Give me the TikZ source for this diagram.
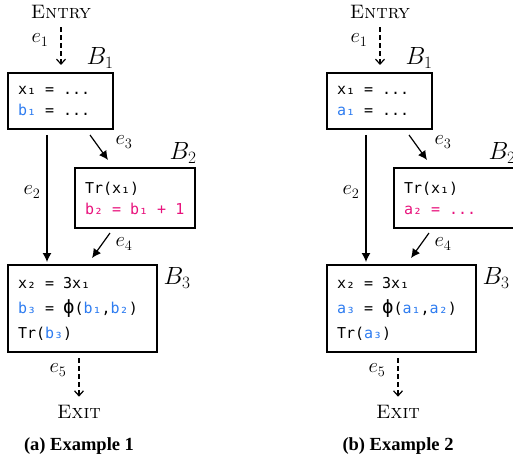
\documentclass[tikz,border=0pt]{standalone}
\usepackage{fontspec}
\newfontfamily\codefont{DejaVu Sans Mono}
\newfontfamily\captionfont{Liberation Serif}
\usetikzlibrary{arrows.meta, positioning}
\definecolor{varblue}{HTML}{2E7CF0}
\definecolor{varpink}{HTML}{E8127C}
\newcommand{\codesize}[2]{\codefont\fontsize{#1}{#2}\selectfont
  \fontdimen2\font=0.602em\fontdimen3\font=0pt\fontdimen4\font=0pt\relax}
\newcommand{\bigphi}{{\fontsize{19}{19}\selectfont ϕ}}

\begin{document}
\begin{tikzpicture}[x=1pt, y=-1pt,
    block/.style={draw, line width=1.4pt, anchor=north west, outer sep=0pt, inner xsep=10pt, inner ysep=0pt, align=flush left, font=\codesize{15}{21}},
    term/.style={inner sep=0pt, font=\fontsize{19.5}{22}\selectfont\scshape},
    edgelbl/.style={inner sep=0pt, font=\fontsize{21}{23}\selectfont},
    blklbl/.style={inner sep=0pt, font=\fontsize{23}{25}\selectfont},
    soft/.style={dash pattern=on 5pt off 3pt, line width=1.2pt, -{Straight Barb[length=5pt,width=9pt]}},
    flow/.style={line width=1.2pt, -{Latex[length=9pt,width=9pt]}},
    subcap/.style={inner sep=0pt, font=\captionfont\fontsize{18.5}{20}\selectfont\bfseries}]

  \useasboundingbox (0,0) rectangle (513,462);

  % Example 1
  \node[term] (entryA) at (61,12) {Entry};
  \node[block, text width=85pt, minimum height=56pt] (b1A) at (8,73)
    {x₁ = ...\\{\color{varblue}b₁} = ...};
  \node[block, text width=100pt, minimum height=60pt] (b2A) at (75,168)
    {Tr(x₁)\\{\color{varpink}b₂ = b₁ + 1}};
  \node[block, text width=129pt, minimum height=87pt, font=\codesize{15}{25}] (b3A) at (8,265)
    {x₂ = 3x₁\\{\color{varblue}b₃} = \bigphi({\color{varblue}b₁},{\color{varblue}b₂})\\Tr({\color{varblue}b₃})};
  \node[term] (exitA) at (79,412) {Exit};

  \node[blklbl] (b1lblA) at (100,58) {$B_1$};
  \node[blklbl] (b2lblA) at (183,153) {$B_2$};
  \node[blklbl] (b3lblA) at (177,278) {$B_3$};

  \draw[soft, shorten <=8.5pt, shorten >=8pt] (entryA.south) -- (entryA.south |- b1A.north);
  \draw[flow, shorten <=6pt, shorten >=3pt] ([xshift=39pt]b1A.south west) -- ([xshift=39pt]b3A.north west);
  \draw[flow, shorten <=7.4pt, shorten >=9.9pt] ([xshift=77.7pt]b1A.south west) -- ([xshift=38.8pt]b2A.north west);
  \draw[flow, shorten <=6.2pt, shorten >=8.6pt] ([xshift=38.6pt]b2A.south west) -- ([xshift=79pt]b3A.north west);
  \draw[soft, shorten <=6pt, shorten >=8.5pt] (exitA.north |- b3A.south) -- (exitA.north);

  \node[edgelbl] (e1A) at (40,40) {$e_1$};
  \node[edgelbl] (e2A) at (32,192) {$e_2$};
  \node[edgelbl] (e3A) at (124,142) {$e_3$};
  \node[edgelbl] (e4A) at (124,244) {$e_4$};
  \node[edgelbl] (e5A) at (58,370) {$e_5$};

  \node[subcap] (capA) at (79,446) {(a) Example 1};

  % Example 2
  \begin{scope}[xshift=319pt]
    \node[term] (entryB) at (61,12) {Entry};
    \node[block, text width=85pt, minimum height=56pt] (b1B) at (8,73)
      {x₁ = ...\\{\color{varblue}a₁} = ...};
    \node[block, text width=100pt, minimum height=60pt] (b2B) at (75,168)
      {Tr(x₁)\\{\color{varpink}a₂ = ...}};
    \node[block, text width=129pt, minimum height=87pt, font=\codesize{15}{25}] (b3B) at (8,265)
      {x₂ = 3x₁\\{\color{varblue}a₃} = \bigphi({\color{varblue}a₁},{\color{varblue}a₂})\\Tr({\color{varblue}a₃})};
    \node[term] (exitB) at (79,412) {Exit};

    \node[blklbl] (b1lblB) at (100,58) {$B_1$};
    \node[blklbl] (b2lblB) at (183,153) {$B_2$};
    \node[blklbl] (b3lblB) at (177,278) {$B_3$};

    \draw[soft, shorten <=8.5pt, shorten >=8pt] (entryB.south) -- (entryB.south |- b1B.north);
    \draw[flow, shorten <=6pt, shorten >=3pt] ([xshift=39pt]b1B.south west) -- ([xshift=39pt]b3B.north west);
    \draw[flow, shorten <=7.4pt, shorten >=9.9pt] ([xshift=77.7pt]b1B.south west) -- ([xshift=38.8pt]b2B.north west);
    \draw[flow, shorten <=6.2pt, shorten >=8.6pt] ([xshift=38.6pt]b2B.south west) -- ([xshift=79pt]b3B.north west);
    \draw[soft, shorten <=6pt, shorten >=8.5pt] (exitB.north |- b3B.south) -- (exitB.north);

    \node[edgelbl] (e1B) at (40,40) {$e_1$};
    \node[edgelbl] (e2B) at (32,192) {$e_2$};
    \node[edgelbl] (e3B) at (124,142) {$e_3$};
    \node[edgelbl] (e4B) at (124,244) {$e_4$};
    \node[edgelbl] (e5B) at (58,370) {$e_5$};

    \node[subcap] (capB) at (79,446) {(b) Example 2};
  \end{scope}
\end{tikzpicture}
\end{document}
